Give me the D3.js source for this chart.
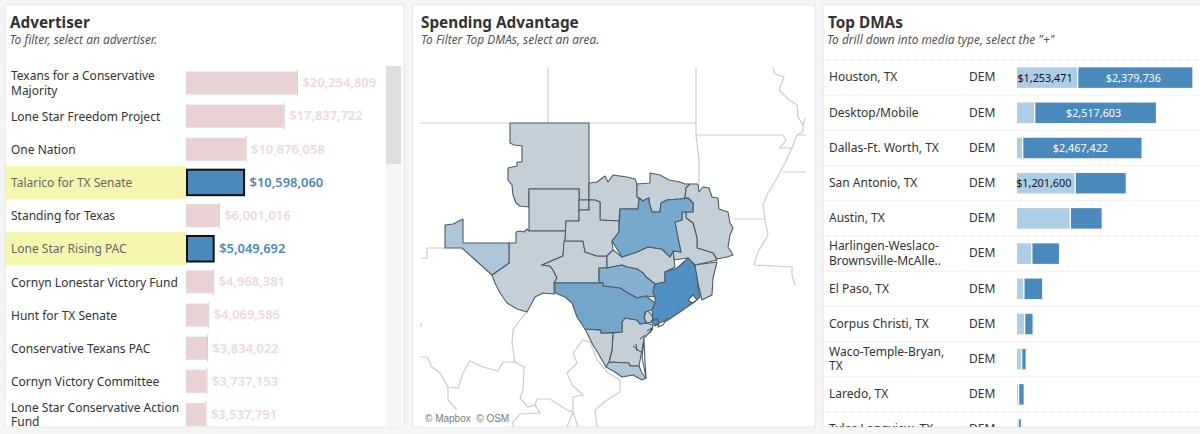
<!DOCTYPE html>
<html>
<head>
<meta charset="utf-8">
<script src="https://cdn.jsdelivr.net/npm/d3@7"></script>
<style>
  html, body { margin: 0; padding: 0; background: #f5f5f5; overflow: hidden; }
  svg { display: block; }
  text { font-family: "Noto Sans", sans-serif; }
</style>
</head>
<body>
<svg id="chart" width="1200" height="434"></svg>
<script>
// advertiser list ("|" = line break)
let advertisers = ["Texans for a Conservative|Majority", "Lone Star Freedom Project", "One Nation",
  "Talarico for TX Senate", "Standing for Texas", "Lone Star Rising PAC", "Cornyn Lonestar Victory Fund",
  "Hunt for TX Senate", "Conservative Texans PAC", "Cornyn Victory Committee", "Lone Star Conservative Action|Fund"];
let advertiserSpend = [20254809, 17837722, 10876058, 10598060, 6001016, 5049692, 4968381, 4069586, 3834022, 3737153, 3537791];
let selectedAdvertisers = ["Talarico for TX Senate", "Lone Star Rising PAC"];

// top DMAs
let dmas = ["Houston, TX", "Desktop/Mobile", "Dallas-Ft. Worth, TX", "San Antonio, TX", "Austin, TX",
  "Harlingen-Weslaco-|Brownsville-McAlle..", "El Paso, TX", "Corpus Christi, TX", "Waco-Temple-Bryan,|TX",
  "Laredo, TX", "Tyler-Longview, TX"];
let dmaParty = "DEM";
let dmaFirst = [1253471, 355000, 105000, 1201600, 1100000, 295000, 130000, 146000, 84000, 21000, 10000];
let dmaSecond = [2379736, 2517603, 2467422, 1040000, 640000, 553000, 367000, 152000, 69000, 90000, 42000];
let dmaFirstLabels = ["$1,253,471", "", "", "$1,201,600", "", "", "", "", "", "", ""];
let dmaSecondLabels = ["$2,379,736", "$2,517,603", "$2,467,422", "", "", "", "", "", "", "", ""];

// map outlines, in map units
let amarillo = [[510,123],[589,123],[589,200],[579,200],[579,189],[529,189],[529,207],[520,206],[516,203],[513,195],[512,185],[508,180],[508,168],[517,166],[517,162],[522,162],[522,146],[514,145],[510,143]];
let lubbock = [[529,189],[579,189],[579,221],[566,221],[566,231],[529,231]];
let smallBox = [[579,200],[589,200],[589,210],[579,210]];
let odessa = [[516,232],[520,231],[524,232],[527,229],[529,231],[566,231],[565,241],[564,248],[563,256],[542,265],[550,266],[553,270],[557,278],[554,283],[554,294],[543,293],[535,297],[527,312],[517,309],[507,303],[500,293],[495,283],[492,275],[509,263],[509,243],[516,243]];
let elPaso = [[445,225],[453,224],[463,219],[463,243],[509,243],[509,263],[492,275],[472,257],[462,248],[445,248]];
let sanAngelo = [[564,241],[583,241],[585,252],[597,256],[607,256],[607,268],[599,268],[599,282],[603,283],[554,283],[557,278],[553,270],[550,266],[542,265],[563,256]];
let wichita = [[589,200],[589,183],[597,182],[605,176],[608,182],[613,175],[627,177],[635,179],[637,184],[637,197],[639,198],[638,209],[620,209],[619,221],[600,220],[600,202],[595,200]];
let abilene = [[579,210],[589,210],[589,200],[595,200],[600,202],[600,220],[619,221],[619,232],[612,241],[613,250],[607,256],[597,256],[585,252],[583,241],[565,241],[566,221],[579,221]];
let sherman = [[637,184],[650,183],[650,173],[660,175],[669,180],[680,182],[685,184],[690,184],[686,188],[685,198],[680,199],[667,200],[661,203],[660,212],[652,212],[649,202],[649,198],[643,201],[639,198],[637,197]];
let dallas = [[620,209],[638,209],[639,198],[643,201],[646,199],[649,198],[649,202],[652,212],[660,212],[661,203],[667,200],[680,199],[688,198],[693,203],[693,212],[682,212],[682,220],[675,222],[678,238],[681,252],[673,251],[670,257],[662,249],[648,247],[637,252],[622,257],[612,241],[619,232]];
let shreveport = [[690,184],[698,184],[699,192],[703,187],[709,188],[712,197],[718,198],[719,209],[728,212],[730,223],[733,228],[730,235],[728,247],[733,255],[727,257],[717,259],[713,253],[697,248],[697,238],[693,223],[686,218],[686,212],[693,212],[693,203],[688,198],[685,198],[686,188]];
let tyler = [[682,212],[686,212],[686,218],[693,223],[697,238],[697,248],[713,253],[717,260],[695,265],[688,258],[674,260],[673,251],[681,252],[678,238],[675,222],[682,220]];
let beaumont = [[695,265],[717,262],[713,278],[712,295],[702,300],[700,292],[696,275]];
let waco = [[607,256],[613,250],[622,257],[637,252],[648,247],[662,249],[670,257],[673,251],[674,260],[675,267],[665,272],[665,282],[655,284],[650,280],[646,277],[643,273],[637,269],[627,267],[622,265],[612,267],[607,268]];
let austin = [[599,268],[607,268],[612,267],[622,265],[627,267],[637,269],[643,273],[646,277],[650,280],[655,284],[653,292],[655,297],[646,296],[637,298],[628,293],[620,288],[603,286],[603,283],[599,282]];
let sanAntonio = [[555,283],[603,283],[603,286],[620,288],[628,293],[637,298],[646,296],[655,303],[652,310],[645,312],[644,318],[646,323],[640,324],[637,320],[625,318],[622,322],[622,332],[601,333],[601,330],[585,329],[577,317],[572,303],[565,297],[555,293]];
let houston = [[688,258],[695,266],[697,277],[698,287],[700,297],[693,303],[687,307],[680,312],[668,320],[658,325],[653,323],[652,310],[655,303],[655,297],[653,292],[655,284],[665,282],[665,272],[677,268]];
let victoriaBit = [[651,321],[657,319],[659,323],[655,326]];
let smallGrey = [[646,311],[649,312],[653,317],[652,322],[647,323],[644,318]];
let corpus = [[613,333],[622,332],[622,322],[625,318],[637,320],[640,324],[646,323],[653,325],[652,330],[644,338],[642,350],[639,366],[630,366],[629,363],[609,362],[612,350]];
let laredo = [[585,329],[601,330],[601,333],[613,333],[612,350],[609,362],[606,367],[598,353],[593,345]];
let harlingen = [[609,362],[629,363],[630,366],[639,366],[642,373],[646,378],[642,380],[633,375],[622,377],[615,372],[606,367]];
let bayHole = [[688,300],[693,295],[697,300],[692,303]];
let bayHole2 = [[659,323],[665,321],[667,318],[663,325],[658,327]];
let padreIsland = [[644,340],[642,357],[646,378],[645,362]];
let bayMarks = [[[633,346],[638,350],[641,352]],[[636,344],[637,351]],[[640,339],[645,335]],[[647,331],[652,328],[650,333]]];

let gridLines = [
  [[420,123],[510,123]], [[589,123],[696,123]], [[548,68],[548,123]],
  [[696,68],[696,135],[699,160],[699,183]],
  [[696,135],[783,135],[786,140],[780,148],[793,148]],
  [[773,68],[775,74],[784,77],[779,90],[788,99],[797,105],[798,117],[803,125],[803,132],[797,135],[792,148],[785,163],[777,178],[768,193],[763,205],[765,220],[768,235],[758,252],[754,265],[792,267],[792,275],[795,285]],
  [[783,172],[806,172]], [[797,135],[806,135]], [[805,118],[803,125]], [[733,219],[764,219]],
  [[421,258],[427,258],[427,248],[445,248]], [[421,323],[421,327]],
  [[527,312],[520,320],[513,330],[512,343],[515,362],[524,367],[523,390],[520,398],[528,407],[535,405],[540,413],[520,414],[513,422],[513,427]],
  [[420,357],[427,357],[432,367],[440,373],[448,387],[458,388],[463,373],[470,361],[483,367],[498,371],[503,362],[515,362]],
  [[448,387],[448,400],[457,410]],
  [[535,405],[537,399],[550,399],[567,410],[573,412],[573,397],[583,395],[572,385],[567,373],[577,363],[573,353],[583,340],[590,342],[597,360],[608,373],[620,380],[620,392],[607,400],[595,410],[597,427]],
  [[573,412],[567,427]], [[573,412],[578,427]]
];

let mapRegions = [
  {ring: amarillo, fill: "#c4cfd7"}, {ring: lubbock, fill: "#c4cfd7"}, {ring: smallBox, fill: "#c4cfd7"},
  {ring: odessa, fill: "#c4cfd7"}, {ring: elPaso, fill: "#afc6d9"}, {ring: sanAngelo, fill: "#c4cfd7"},
  {ring: wichita, fill: "#c4cfd7"}, {ring: abilene, fill: "#c4cfd7"}, {ring: sherman, fill: "#c4cfd7"},
  {ring: shreveport, fill: "#c4cfd7"}, {ring: tyler, fill: "#c4cfd7"}, {ring: beaumont, fill: "#c4cfd7"},
  {ring: waco, fill: "#c4cfd7"}, {ring: corpus, fill: "#c4cfd7"}, {ring: laredo, fill: "#c4cfd7"},
  {ring: harlingen, fill: "#afc6d9"}, {ring: smallGrey, fill: "#c4cfd7"},
  {ring: dallas, fill: "#77a8cd"}, {ring: austin, fill: "#85b0d1"}, {ring: sanAntonio, fill: "#74a6cc"},
  {ring: houston, fill: "#5190c2"}, {ring: victoriaBit, fill: "#5190c2"},
  {ring: bayHole, fill: "#ffffff"}, {ring: bayHole2, fill: "#ffffff"}, {ring: padreIsland, fill: "#ffffff"}
];

let svg = d3.select("#chart");

let cards = [
  {x: 5, w: 399, title: "Advertiser", sub: "To filter, select an advertiser.", tx: 10, sx: 9.5},
  {x: 412.5, w: 402.5, title: "Spending Advantage", sub: "To Filter Top DMAs, select an area.", tx: 421, sx: 421},
  {x: 823, w: 380, title: "Top DMAs", sub: 'To drill down into media type, select the "+"', tx: 828, sx: 827}
];

makeCards();
makeAdvertisers();
makeMap();
makeDmas();

function makeCards(){
  let defs = svg.append("defs");
  cards.forEach((c, i) => {
    defs.append("clipPath").attr("id", "clip" + i)
      .append("rect").attr("x", c.x).attr("y", 5).attr("width", c.w).attr("height", 422);
  });
  svg.selectAll(".card")
    .data(cards)
    .join("rect")
    .attr("class", "card")
    .attr("x", d => d.x).attr("y", 5)
    .attr("width", d => d.w).attr("height", 422)
    .attr("fill", "white")
    .attr("stroke", "#e6e6e6");
  svg.selectAll(".title")
    .data(cards)
    .join("text")
    .attr("class", "title")
    .attr("x", d => d.tx).attr("y", 28)
    .attr("font-size", 15.3).attr("font-weight", 700).attr("fill", "#333")
    .text(d => d.title);
  svg.selectAll(".sub")
    .data(cards)
    .join("text")
    .attr("class", "sub")
    .attr("x", d => d.sx).attr("y", 44)
    .attr("font-size", 11.9).attr("font-style", "italic").attr("fill", "#555")
    .text(d => d.sub);
}

function wrapText(sel, lineHeight){
  sel.each(function(d){
    let lines = d.split("|");
    let t = d3.select(this);
    lines.forEach((line, i) => {
      t.append("tspan")
        .attr("x", t.attr("x"))
        .attr("dy", i == 0 ? (-(lines.length - 1) / 2 * lineHeight + 4.3) : lineHeight)
        .text(line);
    });
  });
}

function makeAdvertisers(){
  let g = svg.append("g").attr("clip-path", "url(#clip0)");
  let y = d3.scaleBand().domain(advertisers).range([66.4, 431.1]);
  let x = d3.scaleLinear().domain([0, 20254809]).range([186, 297]);
  let isSel = d => selectedAdvertisers.includes(d);
  let mid = d => y(d) + y.bandwidth() / 2;

  // scrollbar
  g.append("rect").attr("x", 386).attr("y", 66).attr("width", 15).attr("height", 361).attr("fill", "#f5f5f5");
  g.append("rect").attr("x", 386).attr("y", 66).attr("width", 15).attr("height", 98).attr("fill", "#dedede");

  g.selectAll(".hl")
    .data(selectedAdvertisers)
    .join("rect")
    .attr("class", "hl")
    .attr("x", 5).attr("y", d => y(d))
    .attr("width", 181).attr("height", y.bandwidth())
    .attr("fill", "#f6f6ae");

  g.selectAll(".name")
    .data(advertisers)
    .join("text")
    .attr("class", "name")
    .attr("x", 11)
    .attr("y", d => mid(d) + 0.4)
    .attr("font-size", 12)
    .attr("fill", d => isSel(d) ? "#666" : "#333")
    .call(wrapText, 14.5);

  let barH = 23, selH = 25.5;
  let rows = advertisers.map((d, i) => ({name: d, v: advertiserSpend[i]}));
  g.selectAll(".bar")
    .data(rows.filter(d => !isSel(d.name)))
    .join("rect")
    .attr("class", "bar")
    .attr("x", x(0))
    .attr("y", d => mid(d.name) - barH / 2)
    .attr("width", d => x(d.v) - x(0))
    .attr("height", barH)
    .attr("fill", "#e9d2d4");
  g.selectAll(".selBar")
    .data(rows.filter(d => isSel(d.name)))
    .join("rect")
    .attr("class", "selBar")
    .attr("x", x(0) + 1)
    .attr("y", d => mid(d.name) - selH / 2)
    .attr("width", d => x(d.v) - x(0) - 1)
    .attr("height", selH)
    .attr("fill", "#4a89b9")
    .attr("stroke", "#111")
    .attr("stroke-width", 2);
  // end tick on the unselected bars
  g.selectAll(".endTick")
    .data(rows.filter(d => !isSel(d.name)))
    .join("line")
    .attr("class", "endTick")
    .attr("x1", d => x(d.v) + 0.5).attr("x2", d => x(d.v) + 0.5)
    .attr("y1", d => mid(d.name) - 13.5).attr("y2", d => mid(d.name) + 13.5)
    .attr("stroke", "#e3c9cc").attr("stroke-width", 1);
  g.selectAll(".val")
    .data(rows)
    .join("text")
    .attr("class", "val")
    .attr("x", d => x(d.v) + 5.5)
    .attr("y", d => mid(d.name) + 4.3)
    .attr("font-size", 12.9).attr("font-weight", 600)
    .attr("fill", d => isSel(d.name) ? "#4a89b9" : "#edd9db")
    .text(d => "$" + d3.format(",")(d.v));
}

function makeMap(){
  let g = svg.append("g").attr("clip-path", "url(#clip1)");
  let path = d3.geoPath().projection(d3.geoIdentity());

  g.selectAll(".grid")
    .data(gridLines)
    .join("path")
    .attr("class", "grid")
    .attr("d", d => path({type: "LineString", coordinates: d}))
    .attr("fill", "none").attr("stroke", "#cbcbcb").attr("stroke-width", 1.2);

  g.selectAll(".region")
    .data(mapRegions)
    .join("path")
    .attr("class", "region")
    .attr("d", d => path({type: "Polygon", coordinates: [[...d.ring, d.ring[0]]]}))
    .attr("fill", d => d.fill)
    .attr("stroke", "#4b5b66").attr("stroke-width", 1.1).attr("stroke-linejoin", "round");

  g.selectAll(".bay")
    .data(bayMarks)
    .join("path")
    .attr("class", "bay")
    .attr("d", d => path({type: "LineString", coordinates: d}))
    .attr("fill", "none").attr("stroke", "#39444c").attr("stroke-width", 1);

  g.append("rect").attr("x", 421).attr("y", 410).attr("width", 87).attr("height", 17)
    .attr("fill", "white").attr("opacity", 0.7);
  g.append("text").attr("x", 425).attr("y", 422)
    .style("font-family", "'Liberation Sans', sans-serif")
    .attr("font-size", 10).attr("fill", "#777")
    .text("© Mapbox \u00a0© OSM");
}

function makeDmas(){
  let g = svg.append("g").attr("clip-path", "url(#clip2)");
  let y = d3.scaleBand().domain(dmas).range([60, 447.2]);
  let x = d3.scaleLinear().domain([0, 2379736]).range([0, 114]);
  let startX = 1017, gap = 1.3, barH = 20.5;
  let rows = dmas.map((d, i) => ({
    name: d, a: dmaFirst[i], b: dmaSecond[i], la: dmaFirstLabels[i], lb: dmaSecondLabels[i]
  }));

  g.selectAll(".sep")
    .data(dmas)
    .join("line")
    .attr("class", "sep")
    .attr("x1", 823).attr("x2", 1200)
    .attr("y1", d => y(d)).attr("y2", d => y(d))
    .attr("stroke", "#e2e2e2").attr("stroke-dasharray", "1,1");

  g.selectAll(".name")
    .data(dmas)
    .join("text")
    .attr("class", "name")
    .attr("x", 829)
    .attr("y", d => y(d) + y.bandwidth() / 2 - 0.5)
    .attr("font-size", 12).attr("fill", "#333")
    .call(wrapText, 14.5);

  g.selectAll(".party")
    .data(rows)
    .join("text")
    .attr("class", "party")
    .attr("x", 969)
    .attr("y", d => y(d.name) + y.bandwidth() / 2 + 3.8)
    .attr("font-size", 12).attr("fill", "#333")
    .text(dmaParty);

  let top = d => y(d.name) + (y.bandwidth() - barH) / 2;
  g.selectAll(".light")
    .data(rows)
    .join("rect")
    .attr("class", "light")
    .attr("x", startX).attr("y", top)
    .attr("width", d => x(d.a)).attr("height", barH)
    .attr("fill", "#aecde6");
  g.selectAll(".dark")
    .data(rows)
    .join("rect")
    .attr("class", "dark")
    .attr("x", d => startX + x(d.a) + gap).attr("y", top)
    .attr("width", d => x(d.b)).attr("height", barH)
    .attr("fill", "#4a89bc");

  g.selectAll(".lightLabel")
    .data(rows.filter(d => d.la))
    .join("text")
    .attr("class", "lightLabel")
    .attr("x", d => startX + x(d.a) / 2 - 2)
    .attr("y", d => y(d.name) + y.bandwidth() / 2 + 4)
    .attr("text-anchor", "middle")
    .attr("font-size", 10.8).attr("fill", "#111")
    .text(d => d.la);
  g.selectAll(".darkLabel")
    .data(rows.filter(d => d.lb))
    .join("text")
    .attr("class", "darkLabel")
    .attr("x", d => startX + x(d.a) + gap + x(d.b) / 2 - 2)
    .attr("y", d => y(d.name) + y.bandwidth() / 2 + 4)
    .attr("text-anchor", "middle")
    .attr("font-size", 10.8).attr("fill", "white")
    .text(d => d.lb);
}
</script>
</body>
</html>
